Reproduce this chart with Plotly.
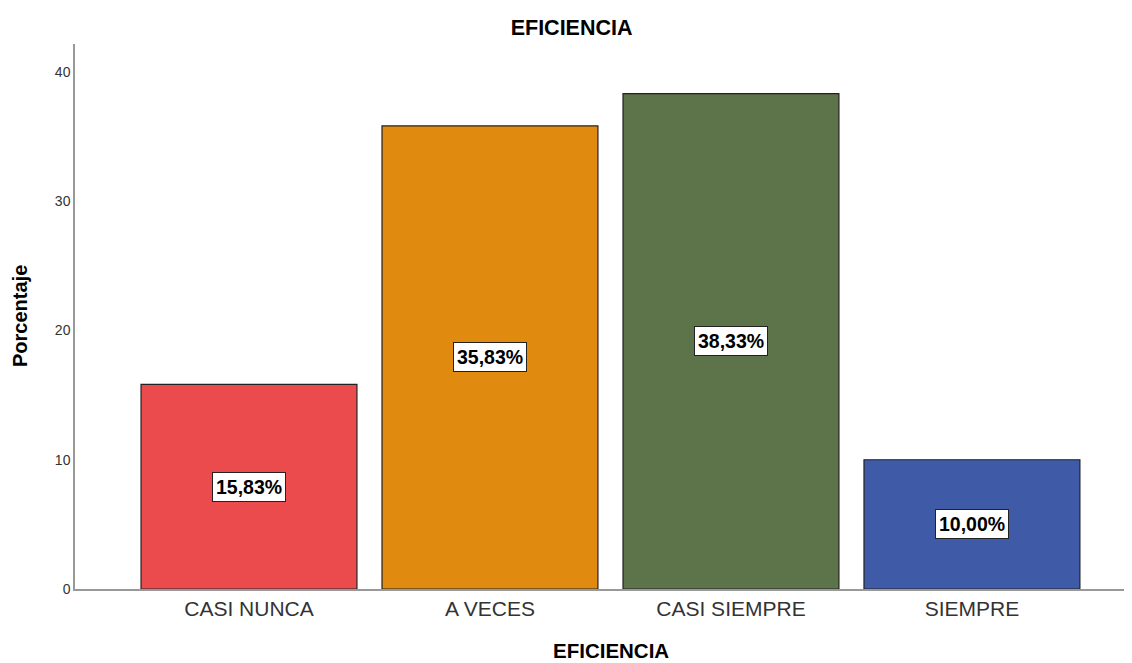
import plotly.graph_objects as go

categories = ["CASI NUNCA", "A VECES", "CASI SIEMPRE", "SIEMPRE"]
values = [15.83, 35.83, 38.33, 10.00]
labels = ["15,83%", "35,83%", "38,33%", "10,00%"]
colors = ["#EB4B4C", "#E08A10", "#5D734A", "#3F5BA8"]
yticks = [0, 10, 20, 30, 40]

FONT = "Liberation Sans, Arial, sans-serif"

fig = go.Figure()
fig.add_trace(go.Bar(
    x=categories, y=values,
    marker=dict(color=colors, line=dict(color="#222222", width=1.2)),
    hoverinfo="skip",
))

for c, v, t in zip(categories, values, labels):
    fig.add_annotation(
        x=c, y=v / 2, text="<b>%s</b>" % t, showarrow=False,
        font=dict(family=FONT, size=19.5, color="#000000"),
        bgcolor="#FFFFFF", bordercolor="#222222", borderwidth=1, borderpad=3,
    )

# axis titles
fig.add_annotation(
    xref="paper", yref="paper", x=0.511, y=-0.112, xanchor="center", yanchor="middle",
    text="<b>EFICIENCIA</b>", showarrow=False,
    font=dict(family=FONT, size=20.5, color="#000000"),
)
fig.add_annotation(
    xref="paper", yref="paper", x=-0.0524, y=0.501, xanchor="center", yanchor="middle",
    text="<b>Porcentaje</b>", showarrow=False, textangle=-90,
    font=dict(family=FONT, size=20, color="#000000"),
)

fig.update_layout(
    width=1116, height=655,
    paper_bgcolor="white", plot_bgcolor="white",
    margin=dict(l=67, r=0, t=36, b=74),
    bargap=0.104,
    showlegend=False,
    title=dict(text="<b>EFICIENCIA</b>", x=0.505, xanchor="center", y=0.971, yanchor="middle",
               font=dict(family=FONT, size=21.5, color="#000000")),
    font=dict(family=FONT),
)
fig.update_xaxes(
    range=[-0.722, 3.631], showgrid=False, zeroline=False,
    showline=True, linecolor="#999999", linewidth=1.5, ticks="",
    tickfont=dict(family=FONT, size=21, color="#333333"),
)
fig.update_yaxes(
    range=[0, 42.17], tickvals=yticks, showgrid=False, zeroline=False,
    showline=True, linecolor="#999999", linewidth=1.5, ticks="",
    tickfont=dict(family=FONT, size=14, color="#333333"),
)

fig.write_html("out.html")
